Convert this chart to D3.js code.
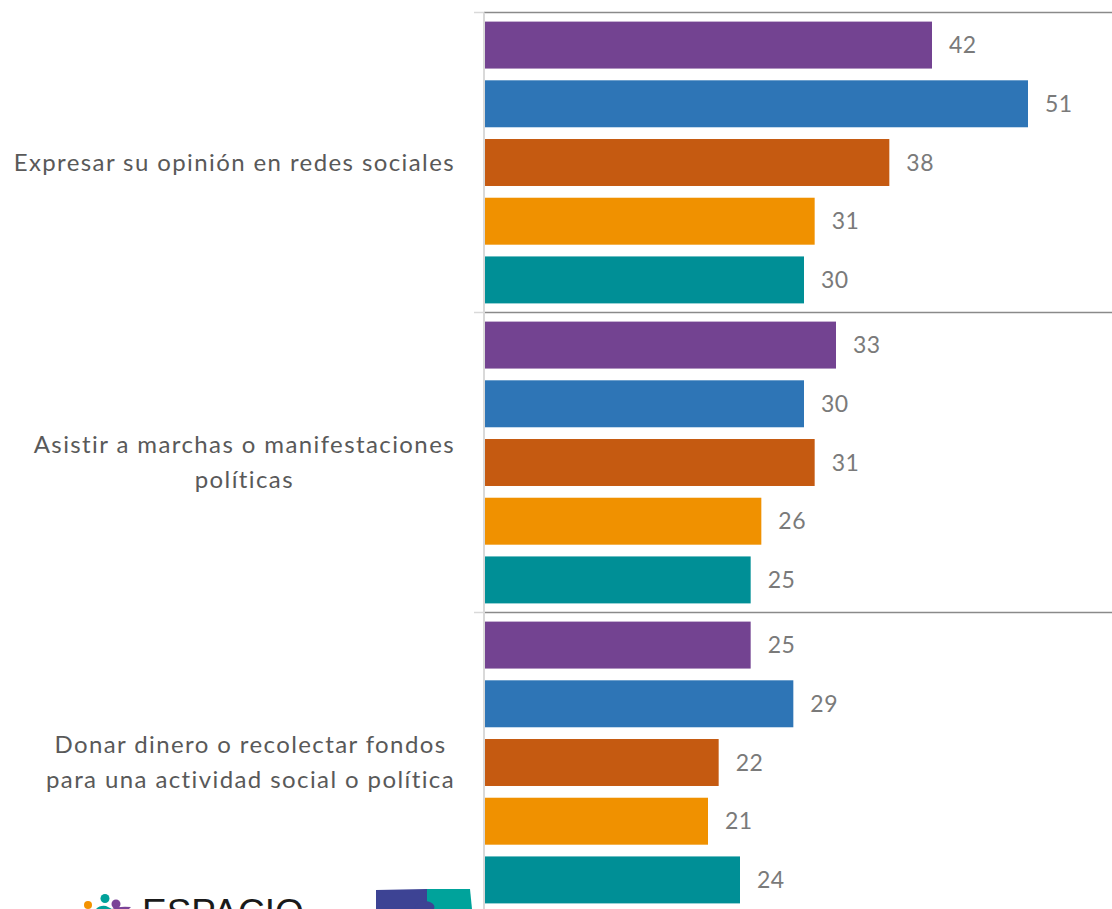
<!DOCTYPE html>
<html>
<head>
<meta charset="utf-8">
<script src="https://cdn.jsdelivr.net/npm/d3@7"></script>
<style>
  html, body { margin: 0; padding: 0; background: #ffffff; }
  svg { display: block; }
</style>
</head>
<body>
<svg id="chart" width="1112" height="909"></svg>
<script>
// Activities (one group of bars per activity)
const categories = [
  "Expresar su opinión en redes sociales",
  "Asistir a marchas o manifestaciones políticas",
  "Donar dinero o recolectar fondos para una actividad social o política"
];
// Wrapped lines of each activity label
const categoryLines = [
  ["Expresar su opinión en redes sociales"],
  ["Asistir a marchas o manifestaciones", "políticas"],
  ["Donar dinero o recolectar fondos", "para una actividad social o política"]
];
const seriesNames = ["s1", "s2", "s3", "s4", "s5"];
const seriesColors = ["#734391", "#2e75b6", "#c55a11", "#f09100", "#008f96"];
// Percentages, one array per series, in category order
const series1 = [42, 33, 25];
const series2 = [51, 30, 29];
const series3 = [38, 31, 22];
const series4 = [31, 26, 21];
const series5 = [30, 25, 24];
const seriesValues = [series1, series2, series3, series4, series5];

const svg = d3.select("#chart");
const axisX = 484;
const plotTop = 12.5;
const groupH = 300;

const x = d3.scaleLinear().domain([0, 60]).range([axisX, axisX + 640]);
const y0 = d3.scaleBand().domain(categories).range([plotTop, plotTop + groupH * categories.length]).padding(0);
const y1 = d3.scaleBand().domain(seriesNames).range([0, groupH]).paddingInner(0.2).paddingOuter(0.155);

// Horizontal separators between groups
const bounds = categories.map(c => y0(c)).concat([y0(categories[categories.length - 1]) + groupH]);
svg.append("g").selectAll("line.sep").data(bounds).join("line")
  .attr("x1", axisX).attr("x2", 1112)
  .attr("y1", d => d).attr("y2", d => d)
  .attr("stroke", "#8a8a8a").attr("stroke-width", 1.5);
svg.append("g").selectAll("line.tick").data(bounds).join("line")
  .attr("x1", axisX - 10).attr("x2", axisX)
  .attr("y1", d => d).attr("y2", d => d)
  .attr("stroke", "#d9d9d9").attr("stroke-width", 1.5);

// Bars
const groups = svg.append("g").selectAll("g.grp").data(categories).join("g")
  .attr("transform", c => `translate(0,${y0(c)})`);

groups.each(function(c, ci) {
  const g = d3.select(this);
  const rows = seriesNames.map((s, si) => ({ s, si, v: seriesValues[si][ci] }));
  g.selectAll("rect").data(rows).join("rect")
    .attr("x", x(0))
    .attr("y", d => y1(d.s))
    .attr("width", d => x(d.v) - x(0))
    .attr("height", y1.bandwidth())
    .attr("fill", d => seriesColors[d.si]);
  g.selectAll("text.val").data(rows).join("text")
    .attr("class", "val")
    .attr("x", d => x(d.v) + 17)
    .attr("y", d => y1(d.s) + y1.bandwidth() / 2)
    .attr("dy", "0.36em")
    .attr("fill", "#7a7a7a")
    .attr("font-family", "Lato, 'Open Sans', sans-serif")
    .attr("font-size", 23)
    .attr("letter-spacing", 0.5)
    .text(d => d.v);
});

// Vertical axis line
svg.append("line")
  .attr("x1", axisX).attr("x2", axisX)
  .attr("y1", plotTop).attr("y2", 909)
  .attr("stroke", "#d9d9d9").attr("stroke-width", 2);

// Category labels, centred on their block, block right-aligned
const labelRight = 455;
const lineH = 35;
categoryLines.forEach((lines, ci) => {
  const cy = y0(categories[ci]) + groupH / 2;
  const t = svg.append("text")
    .attr("font-family", "Lato, 'Open Sans', sans-serif")
    .attr("font-size", 24)
    .attr("letter-spacing", 1.4)
    .attr("fill", "#595959")
    .attr("text-anchor", "middle");
  const spans = lines.map((ln, i) => t.append("tspan")
    .attr("y", cy + (i - (lines.length - 1) / 2) * lineH)
    .attr("dy", "0.35em")
    .text(ln));
  const w = d3.max(spans, s => s.node().getComputedTextLength());
  spans.forEach(s => s.attr("x", labelRight - w / 2));
});

// Logos at the bottom left
const logo = svg.append("g");
logo.append("circle").attr("cx", 88).attr("cy", 905).attr("r", 4).attr("fill", "#f39200");
logo.append("circle").attr("cx", 105).attr("cy", 898.5).attr("r", 4.5).attr("fill", "#00a19a");
logo.append("circle").attr("cx", 116).attr("cy", 904).attr("r", 4.5).attr("fill", "#7b4397");
logo.append("path").attr("d", "M96,909 Q100,905 106,906 L112,909 Z").attr("fill", "#00a19a");
logo.append("path").attr("d", "M112,909 Q118,906 131,907 L129,909 Z").attr("fill", "#7b4397");
logo.append("text").attr("x", 142).attr("y", 925)
  .attr("font-family", "'Liberation Sans', Arial, sans-serif")
  .attr("font-size", 37).attr("fill", "#1a1a1a").text("ESPACIO");
logo.append("path").attr("d", "M376,890 L427,889 L427,909 L376,909 Z").attr("fill", "#3d4394");
logo.append("path").attr("d", "M427,889 L470,889 L472,909 L427,909 Z").attr("fill", "#00a39b");
logo.append("path").attr("d", "M414,909 Q420,898 430,902 Q436,905 434,909 Z").attr("fill", "#3d4394");
</script>
</body>
</html>
